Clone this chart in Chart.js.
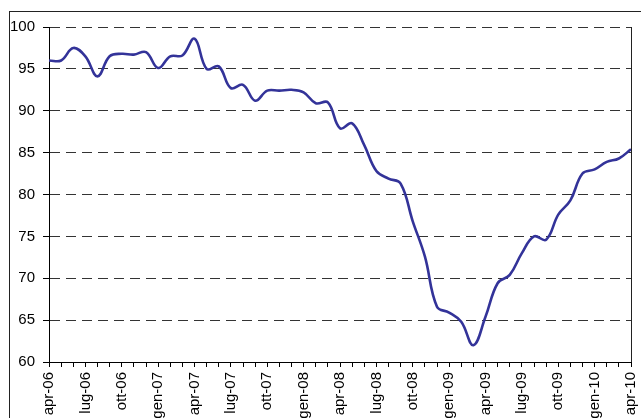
<!DOCTYPE html>
<html>
<head>
<meta charset="utf-8">
<script src="https://cdn.jsdelivr.net/npm/chart.js@4/dist/chart.umd.min.js"></script>
<style>
  html, body { margin: 0; padding: 0; background: #fff; overflow: hidden; }
  #wrap { position: relative; width: 641px; height: 418px; }
  #frame {
    position: absolute; left: 9px; top: 11px; width: 700px; height: 500px;
    border-left: 1px solid #222; border-top: 1px solid #222;
  }
  #wrap canvas { position: absolute; left: 0; top: 0; }
</style>
</head>
<body>
<div id="wrap">
  <div id="frame"></div>
  <canvas id="chart"></canvas>
</div>
<script>
// months, apr-06 .. apr-10
const categories = [
  'apr-06', 'mag-06', 'giu-06', 'lug-06', 'ago-06', 'set-06', 'ott-06', 'nov-06', 'dic-06',
  'gen-07', 'feb-07', 'mar-07', 'apr-07', 'mag-07', 'giu-07', 'lug-07', 'ago-07', 'set-07',
  'ott-07', 'nov-07', 'dic-07', 'gen-08', 'feb-08', 'mar-08', 'apr-08', 'mag-08', 'giu-08',
  'lug-08', 'ago-08', 'set-08', 'ott-08', 'nov-08', 'dic-08', 'gen-09', 'feb-09', 'mar-09',
  'apr-09', 'mag-09', 'giu-09', 'lug-09', 'ago-09', 'set-09', 'ott-09', 'nov-09', 'dic-09',
  'gen-10', 'feb-10', 'mar-10', 'apr-10'
];

const values = [
  96.0, 96.0, 97.5, 96.5, 94.1, 96.5, 96.8, 96.7, 97.0,
  95.1, 96.5, 96.6, 98.6, 95.0, 95.3, 92.7, 93.1, 91.2,
  92.4, 92.4, 92.5, 92.2, 90.9, 91.0, 87.9, 88.5, 85.9,
  82.8, 81.9, 81.3, 76.8, 72.6, 66.6, 65.9, 64.8, 62.0,
  65.4, 69.4, 70.4, 73.0, 75.0, 74.6, 77.6, 79.3, 82.5,
  83.0, 83.9, 84.3, 85.4
];

// only every third month gets a label
const tickLabels = [
  'apr-06', 'lug-06', 'ott-06', 'gen-07', 'apr-07', 'lug-07', 'ott-07', 'gen-08', 'apr-08',
  'lug-08', 'ott-08', 'gen-09', 'apr-09', 'lug-09', 'ott-09', 'gen-10', 'apr-10'
];

const yMin = 60;
const yMax = 100;
const yStep = 5;

const labelFont = { family: '"Liberation Sans", Arial, sans-serif', size: 15 };

// right edge of the plot area
const rightBorder = {
  id: 'rightBorder',
  afterDraw(chart) {
    const { ctx, chartArea } = chart;
    ctx.save();
    ctx.strokeStyle = '#222';
    ctx.lineWidth = 1;
    ctx.beginPath();
    ctx.moveTo(chartArea.right + 0.5, chartArea.top);
    ctx.lineTo(chartArea.right + 0.5, chartArea.bottom);
    ctx.stroke();
    ctx.restore();
  }
};

const ctx = document.getElementById('chart').getContext('2d');

new Chart(ctx, {
  type: 'line',
  data: {
    labels: categories,
    datasets: [{
      data: values,
      borderColor: '#333399',
      borderWidth: 2.6,
      pointRadius: 0,
      tension: 0.4,
      fill: false
    }]
  },
  options: {
    responsive: true,
    maintainAspectRatio: false,
    animation: false,
    layout: {
      padding: { top: 27, right: 10, bottom: 0, left: 0 }
    },
    plugins: {
      legend: { display: false },
      tooltip: { enabled: false }
    },
    scales: {
      x: {
        offset: false,
        grid: {
          drawOnChartArea: false,
          drawTicks: true,
          tickLength: 5,
          tickColor: '#000',
          tickWidth: 1
        },
        border: { display: true, color: '#000', width: 1 },
        ticks: {
          autoSkip: false,
          maxRotation: 90,
          minRotation: 90,
          padding: 5,
          color: '#000',
          font: labelFont,
          callback: function (value) {
            const label = this.getLabelForValue(value);
            return tickLabels.includes(label) ? label : '';
          }
        },
        afterFit(scale) {
          scale.height = 56;
          scale.paddingLeft = 0;
          scale.paddingRight = 0;
        }
      },
      y: {
        min: yMin,
        max: yMax,
        grid: {
          color: '#333',
          lineWidth: 1,
          drawTicks: true,
          tickLength: 6,
          tickColor: '#000',
          tickBorderDash: []
        },
        border: { display: true, color: '#000', width: 1, dash: [10, 6] },
        ticks: {
          stepSize: yStep,
          padding: 8,
          color: '#000',
          font: labelFont
        },
        afterFit(scale) {
          scale.width = 49;
          scale.paddingTop = 0;
          scale.paddingBottom = 0;
        }
      }
    }
  },
  plugins: [rightBorder]
});
</script>
</body>
</html>
